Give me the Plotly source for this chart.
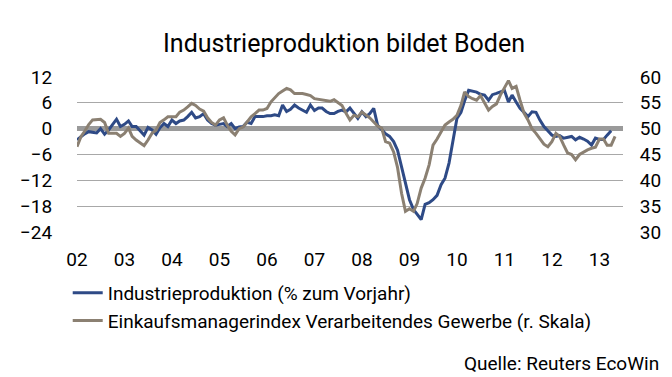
import pandas as pd
import plotly.graph_objects as go

# Monthly data, Jan 2002 onwards
industrie = [
    -2.6, -1.8, -1.2, -0.7, -0.8, -1.0, 0.0, -1.3, -0.3, 1.0, 2.2, 0.5,
    1.0, 1.8, 0.5, 0.5, -0.5, -1.5, 0.3, -0.3, -1.3, 0.2, 1.2, 0.5,
    2.0, 1.2, 1.8, 2.0, 2.8, 3.8, 2.5, 2.8, 3.5, 2.0, 1.2, 0.8,
    1.0, 1.2, 0.5, 1.2, 0.0, 0.4, 0.5, 1.5, 1.2, 2.8, 2.8, 2.8,
    3.0, 3.0, 3.2, 3.0, 5.5, 4.0, 4.5, 5.5, 4.8, 4.4, 3.8, 5.5,
    4.2, 4.8, 4.8, 4.0, 3.5, 3.5, 4.0, 4.3, 3.9, 4.8, 3.7, 2.4,
    3.9, 2.8, 3.5, 4.7, 0.8, -0.3, -1.2, -1.8, -3.0, -5.0, -9.0, -13.0,
    -16.5, -18.8, -20.0, -21.1, -17.6, -17.2, -16.5, -15.5, -13.0, -11.5, -8.0, -3.0,
    2.4, 3.8, 6.5, 8.9, 8.7, 8.5, 8.0, 7.8, 6.6, 7.9, 8.2, 8.5,
    8.9, 6.2, 7.8, 6.2, 4.7, 3.8, 2.8, 3.9, 3.8, 2.0, 0.5, -0.5,
    -1.5, -1.8, -1.6, -2.2, -2.0, -1.8, -2.6, -2.0, -2.4, -2.9, -3.8, -2.2,
    -2.5, -2.5, -1.5, -0.5,
]
einkauf = [
    46.5, 48.5, 49.5, 50.8, 51.7, 51.8, 51.8, 51.2, 49.1, 49.1, 49.1, 48.5,
    49.1, 50.1, 48.5, 47.8, 47.2, 46.7, 47.8, 49.1, 49.7, 51.2, 51.7, 52.3,
    52.3, 52.3, 53.2, 53.6, 54.2, 54.9, 54.5, 53.8, 53.4, 52.1, 51.2, 50.7,
    51.7, 52.1, 50.7, 49.5, 48.8, 50.0, 50.3, 51.2, 52.3, 52.9, 53.6, 53.6,
    53.9, 55.2, 56.0, 56.8, 57.3, 57.8, 57.5, 56.8, 56.8, 56.8, 56.6, 56.4,
    55.8, 55.7, 55.6, 55.4, 55.3, 55.6, 55.0, 54.5, 53.0, 51.7, 52.6, 52.3,
    53.2, 52.6, 52.1, 51.3, 50.5, 50.1, 47.5, 47.2, 45.5, 42.5, 37.5, 34.0,
    34.5, 34.0, 35.5, 38.5, 40.4, 43.0, 46.8, 48.0, 49.5, 50.7, 51.3, 51.8,
    52.6, 54.5, 57.1, 56.2, 55.8, 55.5, 56.4, 55.0, 53.6, 54.3, 54.8, 56.5,
    58.0, 59.3, 57.8, 58.2, 55.5, 53.0, 51.7, 50.0, 49.1, 48.1, 47.0, 46.5,
    47.5, 49.1, 48.5, 46.8, 45.3, 45.0, 44.0, 45.0, 45.5, 45.9, 46.2, 46.4,
    48.0, 48.0, 46.8, 46.8, 48.5,
]
months = pd.date_range("2002-01-01", periods=max(len(industrie), len(einkauf)), freq="MS")
year_ticks = ["2002-01-01", "2003-01-01", "2004-01-01", "2005-01-01", "2006-01-01",
              "2007-01-01", "2008-01-01", "2009-01-01", "2010-01-01", "2011-01-01",
              "2012-01-01", "2013-01-01"]
year_labels = ["02", "03", "04", "05", "06", "07", "08", "09", "10", "11", "12", "13"]
left_ticks = [-24, -18, -12, -6, 0, 6, 12]
right_ticks = [30, 35, 40, 45, 50, 55, 60]

FONT = "Roboto, sans-serif"
BLUE = "#2e4a86"
GRAY = "#8b8072"

fig = go.Figure()
fig.add_trace(go.Scatter(x=months[:len(industrie)], y=industrie, mode="lines",
                         name="Industrieproduktion (% zum Vorjahr)",
                         line=dict(color=BLUE, width=3), yaxis="y"))
fig.add_trace(go.Scatter(x=months[:len(einkauf)], y=einkauf, mode="lines",
                         name="Einkaufsmanagerindex Verarbeitendes Gewerbe (r. Skala)",
                         line=dict(color=GRAY, width=3), yaxis="y2"))

fig.update_layout(
    width=672, height=377,
    margin=dict(l=67, r=57, t=69, b=153),
    paper_bgcolor="white", plot_bgcolor="white",
    font=dict(family=FONT, size=19, color="#000000"),
    title=dict(text="Industrieproduktion bildet Boden", x=0.5, xanchor="center",
               y=0.906, yanchor="middle", font=dict(family=FONT, size=25, color="#000000")),
    xaxis=dict(type="date", range=["2002-01-01", "2013-07-01"],
               tickvals=year_ticks, ticktext=year_labels,
               showgrid=False, zeroline=False, showline=False,
               ticks="outside", ticklen=10, tickcolor="rgba(0,0,0,0)",
               tickfont=dict(size=19)),
    yaxis=dict(range=[-24, 12], tickvals=left_ticks,
               showgrid=True, gridcolor="#a8a8a8", gridwidth=1,
               zeroline=True, zerolinecolor="#9a9a9a", zerolinewidth=5,
               ticks="outside", ticklen=20, tickcolor="rgba(0,0,0,0)",
               tickfont=dict(size=19), showline=False),
    yaxis2=dict(range=[30, 60], tickvals=right_ticks, overlaying="y", side="right",
                showgrid=False, zeroline=False, showline=False,
                ticks="outside", ticklen=12, tickcolor="rgba(0,0,0,0)",
                tickfont=dict(size=19)),
    legend=dict(x=-0.017, xanchor="left", y=-0.27, yanchor="top",
                orientation="v", font=dict(size=19), bgcolor="rgba(0,0,0,0)",
                tracegroupgap=0, itemwidth=30),
    showlegend=True,
    annotations=[dict(text="Quelle: Reuters EcoWin", xref="paper", yref="paper",
                      x=1.07, y=-0.85, xanchor="right", yanchor="middle",
                      showarrow=False, font=dict(family=FONT, size=19, color="#000000"))],
)

fig.write_html("out.html")
